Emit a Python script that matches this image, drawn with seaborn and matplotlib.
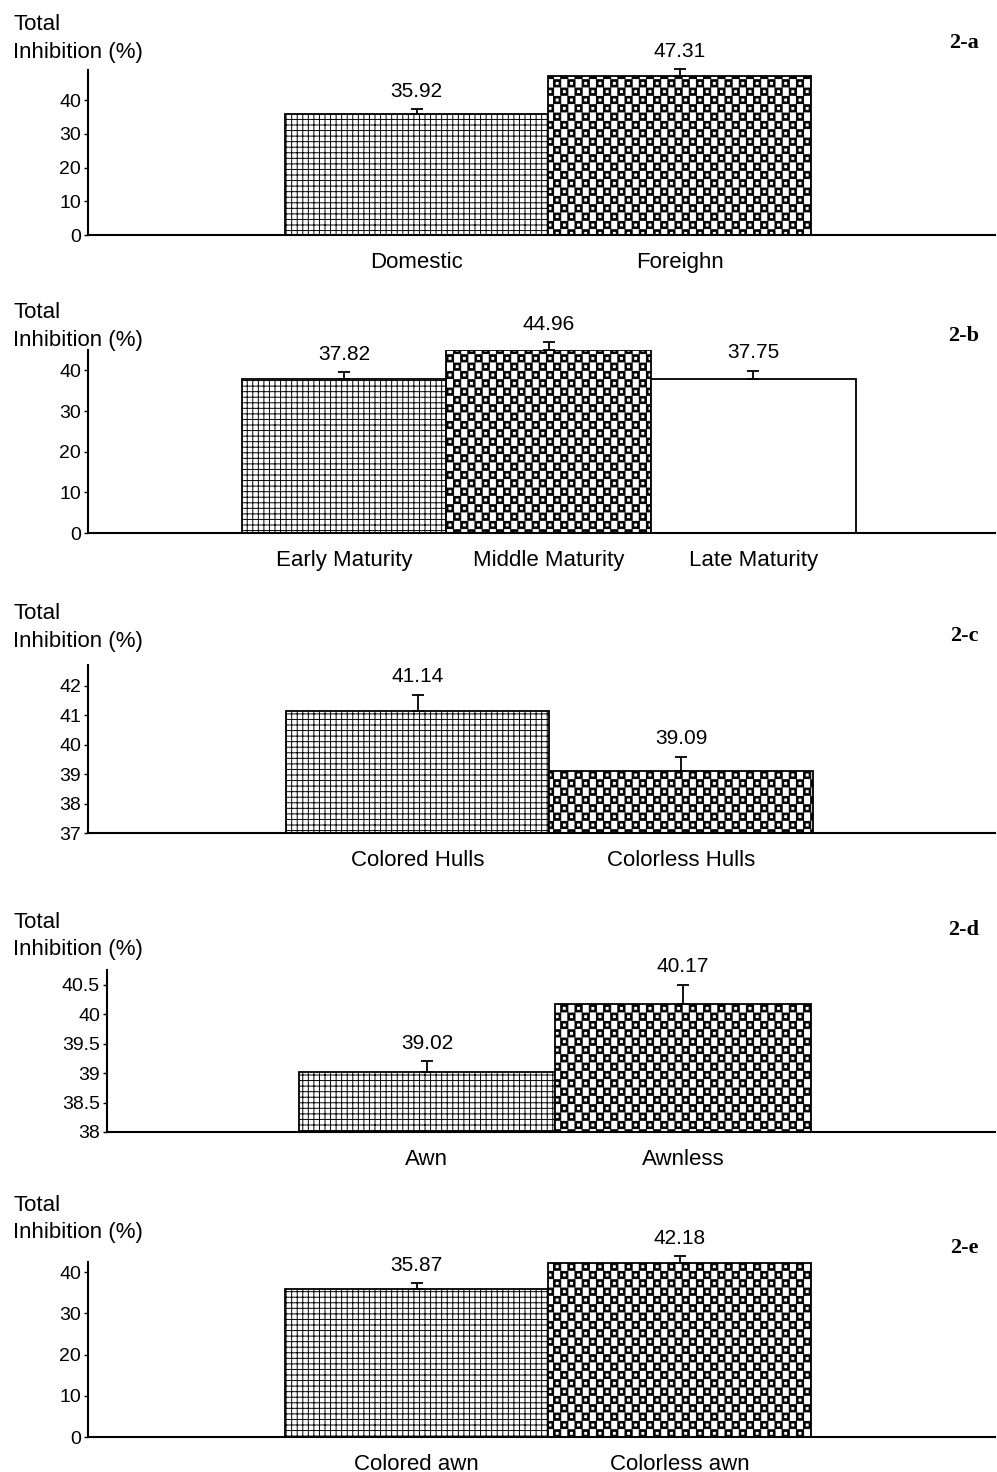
import numpy as np
import matplotlib
matplotlib.use('Agg')
import matplotlib.pyplot as plt
from matplotlib import hatch as mhatch
from matplotlib.path import Path
from matplotlib.ticker import FuncFormatter
import seaborn as sns

# data
origin_cats = ['Domestic', 'Foreighn']
origin_vals = [35.92, 47.31]
origin_err = [1.5, 2.0]

maturity_cats = ['Early Maturity', 'Middle Maturity', 'Late Maturity']
maturity_vals = [37.82, 44.96, 37.75]
maturity_err = [1.7, 2.0, 2.2]

hull_cats = ['Colored Hulls', 'Colorless Hulls']
hull_vals = [41.14, 39.09]
hull_err = [0.55, 0.5]

awn_cats = ['Awn', 'Awnless']
awn_vals = [39.02, 40.17]
awn_err = [0.18, 0.33]

awncol_cats = ['Colored awn', 'Colorless awn']
awncol_vals = [35.87, 42.18]
awncol_err = [1.5, 1.7]

ticks_a = [0, 10, 20, 30, 40]
ticks_c = [37, 38, 39, 40, 41, 42]
ticks_d = [38, 38.5, 39, 39.5, 40, 40.5]


# staggered small open squares, used in place of the '*' hatch
class CheckerHatch(mhatch.HatchPatternBase):
    def __init__(self, hatch, density):
        n = hatch.count('*')
        self.ncols = 7 * n
        self.nrows = 12 * n
        if n:
            self.num_squares = (self.nrows // 2 + 1) * (self.ncols + 1) + (self.nrows // 2) * self.ncols
        else:
            self.num_squares = 0
        self.num_vertices = self.num_squares * 10

    def set_vertices_and_codes(self, vertices, codes):
        h = 0.036
        sq = np.array([[-h, -h], [h, -h], [h, h], [-h, h], [-h, -h]])
        # outer square forward, inner one backward -> hollow ring
        ring = np.concatenate([sq, sq[::-1] * 0.55])
        sq_codes = [Path.MOVETO, Path.LINETO, Path.LINETO, Path.LINETO, Path.CLOSEPOLY] * 2
        parts = []
        for row in range(self.nrows + 1):
            if row % 2 == 0:
                cols = np.linspace(0, 1, self.ncols + 1)
            else:
                cols = (np.arange(self.ncols) + 0.5) / self.ncols
            for c in cols:
                parts.append(ring + [c, row / self.nrows])
        vertices[:] = np.concatenate(parts)
        codes[:] = np.tile(sq_codes, self.num_squares)


mhatch._hatch_types = [t for t in mhatch._hatch_types if t is not mhatch.Stars] + [CheckerHatch]

sns.set_style('ticks')
plt.rcParams['font.family'] = ['Liberation Sans', 'DejaVu Sans']
plt.rcParams['hatch.linewidth'] = 0.7
plt.rcParams['hatch.color'] = 'black'
for k in ['text.color', 'axes.labelcolor', 'xtick.color', 'ytick.color']:
    plt.rcParams[k] = 'black'

W, H = 997, 1472
fig = plt.figure(figsize=(W / 100, H / 100), dpi=100)

hatches = ['+++', '*', '']

# (cats, vals, err, ticks, ylim, axis left px, baseline px, top px, xlim, label rows px, tag)
panels = [
    (origin_cats, origin_vals, origin_err, ticks_a, (0, 49), 88, 235, 70, (-1.25, 2.2), (30, 58), 48, '2-a'),
    (maturity_cats, maturity_vals, maturity_err, ticks_a, (0, 45), 88, 533, 350, (-1.25, 3.18), (318, 346), 341, '2-b'),
    (hull_cats, hull_vals, hull_err, ticks_c, (37, 42.7), 88, 833, 665, (-1.25, 2.19), (619, 647), 641, '2-c'),
    (awn_cats, awn_vals, awn_err, ticks_d, (38, 40.75), 107, 1132, 970, (-1.25, 2.22), (928, 955), 935, '2-d'),
    (awncol_cats, awncol_vals, awncol_err, ticks_a, (0, 42.5), 88, 1437, 1262, (-1.25, 2.2), (1211, 1238), 1253, '2-e'),
]

for cats, vals, err, ticks, ylim, left, base, top, xlim, lab_y, tag_y, tag in panels:
    ax = fig.add_axes([left / W, 1 - base / H, (995 - left) / W, (base - top) / H])
    sns.barplot(x=cats, y=vals, ax=ax, color='white', saturation=1, width=1,
                edgecolor='black', linewidth=1.3, errorbar=None)
    for p, hp in zip(ax.patches, hatches):
        p.set_hatch(hp)

    xs = [p.get_x() + p.get_width() / 2 for p in ax.patches]
    eb = ax.errorbar(xs, vals, yerr=[np.zeros(len(vals)), err], fmt='none',
                     ecolor='black', elinewidth=1.3, capsize=4.5, capthick=1.3)
    for art in list(eb[1]) + list(eb[2]):
        art.set_clip_on(False)
    for x, v, e in zip(xs, vals, err):
        ax.annotate(f'{v:.2f}', (x, v + e), xytext=(0, 6), textcoords='offset points',
                    ha='center', va='bottom', fontsize=15, annotation_clip=False)

    ax.set_ylim(*ylim)
    ax.set_xlim(*xlim)
    ax.set_yticks(ticks)
    ax.yaxis.set_major_formatter(FuncFormatter(lambda v, _: f'{v:g}'))
    ax.tick_params(axis='y', labelsize=14, length=3, width=1, pad=2)
    ax.tick_params(axis='x', labelsize=16, length=0, pad=12)
    sns.despine(ax=ax)
    for s in ['left', 'bottom']:
        ax.spines[s].set_linewidth(1.5)
        ax.spines[s].set_color('black')

    fig.text(13 / W, 1 - lab_y[0] / H, 'Total', fontsize=16, va='baseline', ha='left')
    fig.text(13 / W, 1 - lab_y[1] / H, 'Inhibition (%)', fontsize=16, va='baseline', ha='left')
    fig.text(979 / W, 1 - tag_y / H, tag, fontsize=16, fontweight='bold',
             family='Liberation Serif', va='baseline', ha='right')

fig.savefig('out.png', dpi=100)
